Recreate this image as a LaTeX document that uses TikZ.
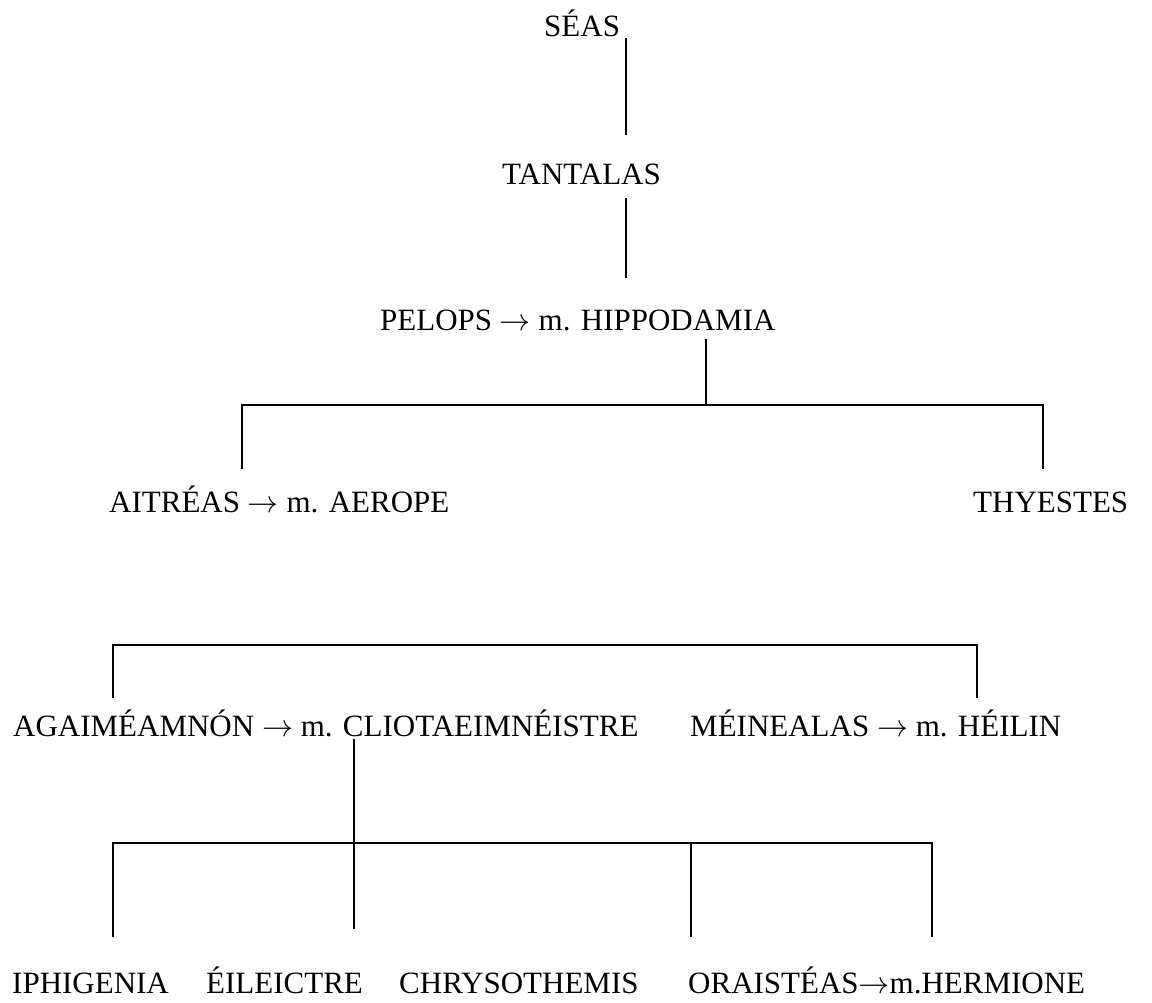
\RequirePackage{fix-cm}
\documentclass[tikz,border=0pt]{standalone}
\usepackage{fontspec}
\setmainfont{Liberation Serif}
\newcommand\toarrow{\ensuremath{\rightarrow}}
\begin{document}
\begin{tikzpicture}[x=1pt,y=-1pt,
  person/.style={inner sep=0pt, anchor=base west, font=\fontsize{31}{37}\selectfont},
  link/.style={line width=1.3pt, line cap=butt}]
\useasboundingbox (0,0) rectangle (1152,1002);
% people
\node[person] (seas) at (544,36) {SÉAS};
\node[person] (tant) at (502,184) {TANTALAS};
\node[person] (pel)  at (380,330) {PELOPS \toarrow\ m. HIPPODAMIA};
\node[person] (ait)  at (109,512) {AITRÉAS \toarrow\ m. AEROPE};
\node[person] (thy)  at (973,512) {THYESTES};
\node[person] (aga)  at (13,736) {AGAIMÉAMNÓN \toarrow\ m. CLIOTAEIMNÉISTRE};
\node[person] (men)  at (690,736) {MÉINEALAS \toarrow\ m. HÉILIN};
\node[person] (iph)  at (12,993) {IPHIGENIA};
\node[person] (ele)  at (206,993) {ÉILEICTRE};
\node[person] (chr)  at (399,993) {CHRYSOTHEMIS};
\node[person] (ora)  at (688,993) {ORAISTÉAS\toarrow m.HERMIONE};
% connector points
\coordinate (s1) at (626,38);  \coordinate (t1) at (626,135);
\coordinate (s2) at (626,198); \coordinate (t2) at (626,278);
\coordinate (s3) at (706,339); \coordinate (j3) at (706,405);
\coordinate (l3) at (242,405); \coordinate (r3) at (1043,405);
\coordinate (la) at (242,469); \coordinate (ra) at (1043,469);
\coordinate (l4) at (113,645); \coordinate (r4) at (977,645);
\coordinate (la4) at (113,698); \coordinate (ra4) at (977,698);
\coordinate (s5) at (354,739); \coordinate (e5) at (354,929);
\coordinate (l5) at (113,843); \coordinate (r5) at (932,843);
\coordinate (m5) at (691,843);
\coordinate (b1) at (113,937); \coordinate (b3) at (691,937); \coordinate (b4) at (932,937);
% connectors
\draw[link] (s1) -- (t1);
\draw[link] (s2) -- (t2);
\draw[link] (s3) -- (j3);
\draw[link] (la) -- (l3) -- (r3) -- (ra);
\draw[link] (la4) -- (l4) -- (r4) -- (ra4);
\draw[link] (s5) -- (e5);
\draw[link] (b1) -- (l5) -- (r5) -- (b4);
\draw[link] (m5) -- (b3);
\end{tikzpicture}
\end{document}
